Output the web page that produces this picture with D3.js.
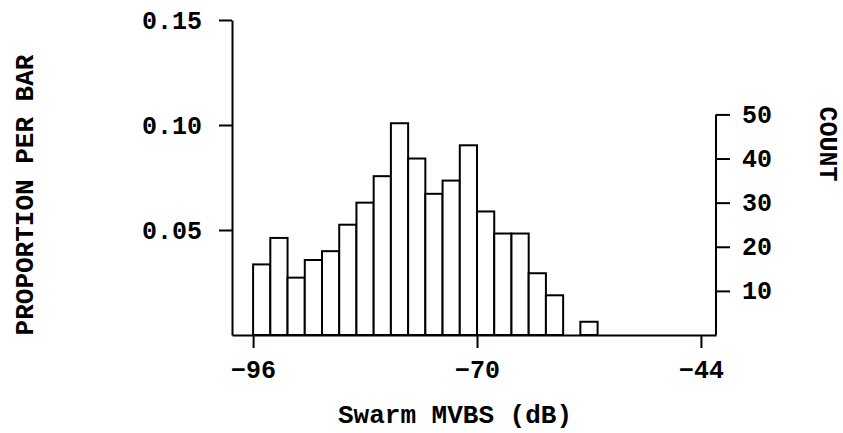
<!DOCTYPE html>
<html>
<head>
<meta charset="utf-8">
<script src="https://cdn.jsdelivr.net/npm/d3@7"></script>
<style>
  body { margin: 0; background: #fff; }
  text { font-family: "Liberation Mono", "Courier New", monospace; font-weight: bold; fill: #000; }
</style>
</head>
<body>
<svg id="chart"></svg>
<script>
const width = 843;
const height = 433;

// histogram bins, 2 dB wide, starting at -96 dB
const binStart = -96;
const binWidth = 2;
const counts = [16, 22, 13, 17, 19, 25, 30, 36, 48, 40, 32, 35, 43, 28, 23, 23, 14, 9, 0, 3];
const total = d3.sum(counts);

const xTicks = [-96, -70, -44];
const propTicks = [0.05, 0.10, 0.15];
const countTicks = [10, 20, 30, 40, 50];

const svg = d3.select("#chart")
    .attr("width", width)
    .attr("height", height);

const x = d3.scaleLinear()
    .domain([-98.45, -42.25])
    .range([232, 716]);

const yProp = d3.scaleLinear()
    .domain([0, 0.15])
    .range([335, 20]);

const yCount = d3.scaleLinear()
    .domain([0, 0.15 * total])
    .range([335, 20]);

const bins = counts.map((c, i) => ({
    x0: binStart + i * binWidth,
    x1: binStart + (i + 1) * binWidth,
    count: c,
    prop: c / total
}));

svg.selectAll("rect.bar")
    .data(bins.filter(d => d.count > 0))
    .enter()
    .append("rect")
    .attr("class", "bar")
    .attr("x", d => x(d.x0))
    .attr("width", d => x(d.x1) - x(d.x0))
    .attr("y", d => yProp(d.prop))
    .attr("height", d => yProp(0) - yProp(d.prop))
    .attr("fill", "#fff")
    .attr("stroke", "#000")
    .attr("stroke-width", 2);

function styleAxis(g) {
    g.attr("font-family", null).attr("font-size", null);
    g.selectAll("path, line").attr("stroke", "#000").attr("stroke-width", 2);
    g.selectAll("text").style("font-size", "25px");
}

// left axis: proportion
svg.append("g")
    .attr("transform", `translate(${x.range()[0]},0)`)
    .call(d3.axisLeft(yProp)
        .tickValues(propTicks)
        .tickFormat(d3.format(".2f"))
        .tickSize(13)
        .tickSizeOuter(0)
        .tickPadding(17))
    .call(styleAxis);

// right axis: count, line only up to 50
const right = svg.append("g")
    .attr("transform", `translate(${x.range()[1]},0)`)
    .call(d3.axisRight(yCount)
        .tickValues(countTicks)
        .tickSize(14)
        .tickSizeOuter(0)
        .tickPadding(12))
    .call(styleAxis);
right.select(".domain").remove();
right.append("line")
    .attr("y1", yCount(0))
    .attr("y2", yCount(50))
    .attr("stroke", "#000")
    .attr("stroke-width", 2);

// bottom axis
svg.append("g")
    .attr("transform", `translate(0,${yProp(0)})`)
    .call(d3.axisBottom(x)
        .tickValues(xTicks)
        .tickSize(13)
        .tickSizeOuter(0)
        .tickPadding(12))
    .call(styleAxis);

svg.append("text")
    .attr("transform", "translate(33,195) rotate(-90)")
    .attr("text-anchor", "middle")
    .style("font-size", "26px")
    .text("PROPORTION PER BAR");

svg.append("text")
    .attr("transform", "translate(820,144) rotate(90)")
    .attr("text-anchor", "middle")
    .style("font-size", "25px")
    .text("COUNT");

svg.append("text")
    .attr("x", 455)
    .attr("y", 423)
    .attr("text-anchor", "middle")
    .style("font-size", "26px")
    .text("Swarm MVBS (dB)");
</script>
</body>
</html>
